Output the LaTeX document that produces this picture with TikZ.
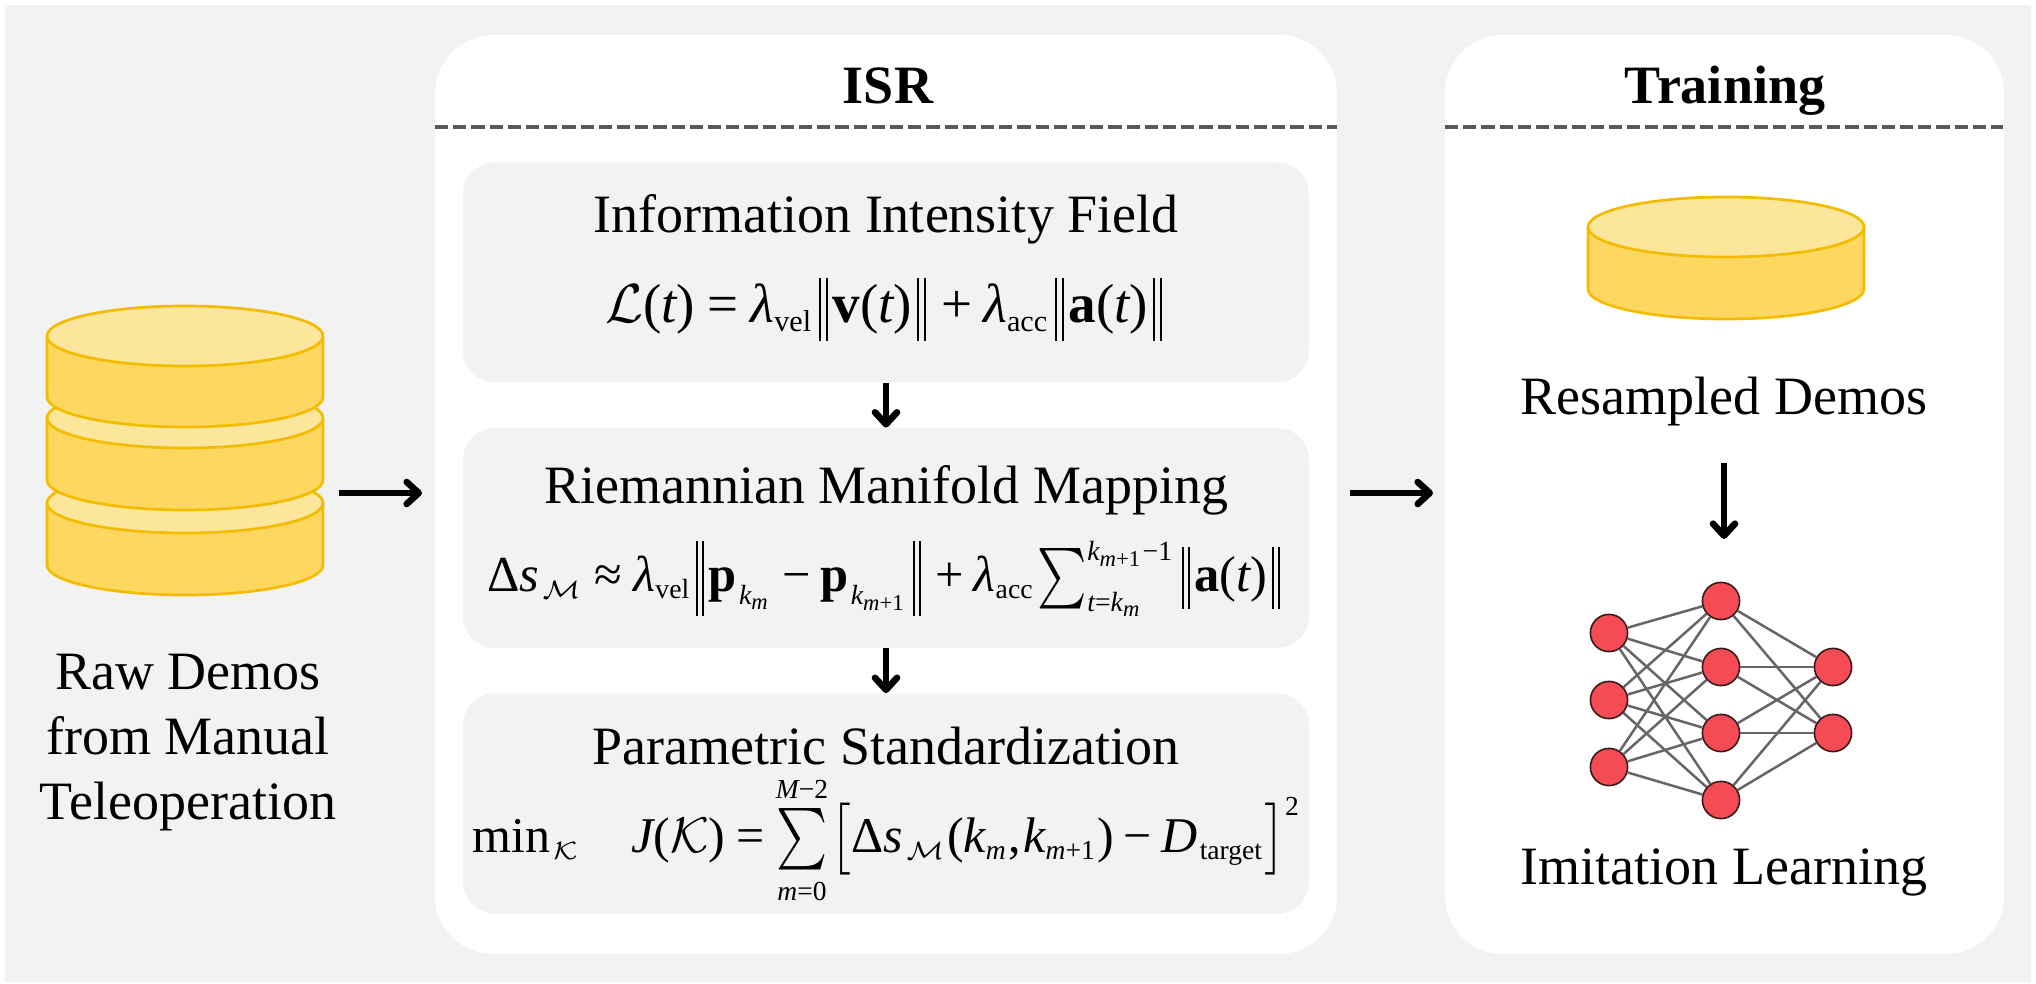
\documentclass[tikz,border=0pt]{standalone}
\usepackage{amsmath}
\usepackage{graphicx}
\usepackage{fontspec}
\setmainfont{Liberation Serif}
\usetikzlibrary{arrows.meta}
\DeclareMathSizes{10}{10}{5.5}{4.5}
\definecolor{bggray}{HTML}{F2F2F2}
\definecolor{cylside}{HTML}{FDD75F}
\definecolor{cyltop}{HTML}{FCE69C}
\definecolor{cylline}{HTML}{F4BC00}
\definecolor{dashgray}{HTML}{595959}
\definecolor{nnfill}{HTML}{F44B55}
\definecolor{nnline}{HTML}{3A1A1C}
\definecolor{nnedge}{HTML}{666666}
\newcommand{\rmx}[1]{\textrm{#1}}
\newcommand{\itx}[1]{\textit{#1}}
\newcommand{\bfx}[1]{\textbf{#1}}
\newcommand{\dbar}[1]{\mathord{\vcenter{\hbox{\kern0.9pt\rule{0.4pt}{#1}\kern0.8pt\rule{0.4pt}{#1}\kern0.9pt}}}}
\newcommand{\tsum}[2]{\mathop{\vcenter{\hbox{\scalebox{#1}[#2]{$\textstyle\sum$}}}}}
\newcommand{\tallb}[1]{\mathord{\vcenter{\hbox{\scalebox{1}[1.2]{$\big#1$}}}}}
\tikzset{
  panel/.style={draw=none,fill=white,rounded corners=29pt,inner sep=0pt},
  stepbox/.style={draw=none,fill=bggray,rounded corners=16pt,inner sep=0pt,minimum width=423pt,minimum height=110pt},
  txt/.style={inner sep=0pt,font=\fontsize{27}{32.5}\selectfont},
  head/.style={inner sep=0pt,font=\fontsize{27}{32}\selectfont\bfseries},
  formula/.style={inner sep=0pt,anchor=base,execute at begin node={\thickmuskip=4mu\medmuskip=3.5mu\thinmuskip=1mu}},
  sep/.style={draw=dashgray,line width=2pt,dash pattern=on 6.6pt off 2.5pt},
  arr/.style={draw=black,line width=3.3pt,-{Straight Barb[length=6pt,width=11pt,round]}},
  neuron/.style={circle,draw=nnline,line width=0.8pt,fill=nnfill,inner sep=0pt,minimum size=18.6pt},
  link/.style={draw=nnedge,line width=1.25pt},
  side/.style={draw=cylline,fill=cylside,line width=1.35pt},
  lid/.style={draw=cylline,fill=cyltop,line width=1.35pt}
}
\newcommand{\cyl}[3]{%
  \path[side] (#1-138,#2) -- (#1-138,#3) arc[start angle=180,end angle=360,x radius=69pt,y radius=15pt] -- (#1+138,#2);
  \path[lid] (#1,#2) ellipse[x radius=69pt,y radius=15pt];
}
\begin{document}
\begin{tikzpicture}[x=0.5pt,y=-0.5pt]
\useasboundingbox (0,0) rectangle (2036,984);
\fill[bggray] (5,5) rectangle (2031,982);
% panels
\node[panel,minimum width=451pt,minimum height=459.5pt] (isr) at (886,494.5) {};
\node[panel,minimum width=279.5pt,minimum height=459.5pt] (train) at (1724.5,494.5) {};
\coordinate (d1a) at (435,127); \coordinate (d1b) at (1337,127);
\coordinate (d2a) at (1445,127); \coordinate (d2b) at (2003,127);
\draw[sep] (d1a) -- (d1b);
\draw[sep] (d2a) -- (d2b);
\node[head,anchor=base] (isrt) at (888,104) {ISR};
\node[head,anchor=base] (traint) at (1725,104) {Training};
% step boxes
\node[stepbox] (b1) at (886,272.5) {};
\node[stepbox] (b2) at (886,538) {};
\node[stepbox] (b3) at (886,803.5) {};
\draw[arr] (b1.south) -- (b2.north);
\draw[arr] (b2.south) -- (b3.north);
\node[txt,anchor=base] (t1) at (886,233) {Information Intensity Field};
\node[txt,anchor=base] (t2) at (886,503) {Riemannian Manifold Mapping};
\node[txt,anchor=base] (t3) at (886,764) {Parametric Standardization};
\node[formula,scale=2.75] (f1) at (886,323) {$\displaystyle \mathcal{L}\rmx{(}\itx{t}\rmx{)}\mathrel{\rmx{=}}\itx{λ}_{\rmx{vel}}\dbar{11.5pt}\bfx{v}\rmx{(}\itx{t}\rmx{)}\dbar{11.5pt}\mathbin{\rmx{+}}\itx{λ}_{\rmx{acc}}\dbar{11.5pt}\bfx{a}\rmx{(}\itx{t}\rmx{)}\dbar{11.5pt}$};
\node[formula,scale=2.52] (f2) at (886,591) {$\displaystyle \rmx{Δ}\itx{s}_{\,\mathcal{M}}\mathrel{\rmx{≈}}\itx{λ}_{\rmx{vel}}\dbar{15pt}\bfx{p}_{\,\itx{k}_{\itx{m}}}\mathbin{\rmx{−}}\bfx{p}_{\,\itx{k}_{\itx{m}\rmx{+1}}}\dbar{15pt}\mathbin{\rmx{+}}\itx{λ}_{\rmx{acc}}\tsum{.93}{1.2}\nolimits_{\itx{t}\rmx{=}\itx{k}_{\itx{m}}}^{\itx{k}_{\itx{m}\rmx{+1}}\rmx{−1}}\dbar{12.3pt}\bfx{a}\rmx{(}\itx{t}\rmx{)}\dbar{12.3pt}$};
\node[formula,scale=2.5] (f3) at (887,852) {$\displaystyle \rmx{min}_{\,\mathcal{K}}\quad \itx{J}\rmx{(}\mathcal{K}\rmx{)}\mathrel{\rmx{=}}\tsum{.97}{1.23}\limits_{\itx{m}\rmx{=0}}^{\itx{M}\rmx{−2}}\tallb{[}\rmx{Δ}\itx{s}_{\,\mathcal{M}}\rmx{(}\itx{k}_{\itx{m}}\rmx{,}\,\itx{k}_{\itx{m}\rmx{+1}}\rmx{)}\mathbin{\rmx{−}}\itx{D}_{\,\rmx{target}}\tallb{]}^{\rmx{2}}$};
% raw demos
\cyl{185}{503}{565}
\cyl{185}{418}{480}
\cyl{185}{336}{397}
\node[txt,align=center] (raw) at (188,743) {Raw Demos\\from Manual\\Teleoperation};
\coordinate (a1s) at (339,493); \coordinate (a1e) at (422,493);
\coordinate (a2s) at (1350,493); \coordinate (a2e) at (1433,493);
\draw[arr] (a1s) -- (a1e);
\draw[arr] (a2s) -- (a2e);
% training
\cyl{1726}{227}{289}
\node[txt,anchor=base] (res) at (1724,415) {Resampled Demos};
\coordinate (a3s) at (1724,463); \coordinate (a3e) at (1724,539);
\draw[arr] (a3s) -- (a3e);
\node[txt,anchor=base] (imit) at (1724,884) {Imitation Learning};
% network
\node[neuron] (l1) at (1609,633) {};
\node[neuron] (l2) at (1609,700) {};
\node[neuron] (l3) at (1609,767) {};
\node[neuron] (m1) at (1721,601) {};
\node[neuron] (m2) at (1721,667) {};
\node[neuron] (m3) at (1721,733) {};
\node[neuron] (m4) at (1721,800) {};
\node[neuron] (r1) at (1833,667) {};
\node[neuron] (r2) at (1833,733) {};
\foreach \a in {l1,l2,l3} \foreach \b in {m1,m2,m3,m4} \draw[link] (\a) -- (\b);
\foreach \a in {m1,m2,m3,m4} \foreach \b in {r1,r2} \draw[link] (\a) -- (\b);
\end{tikzpicture}
\end{document}
